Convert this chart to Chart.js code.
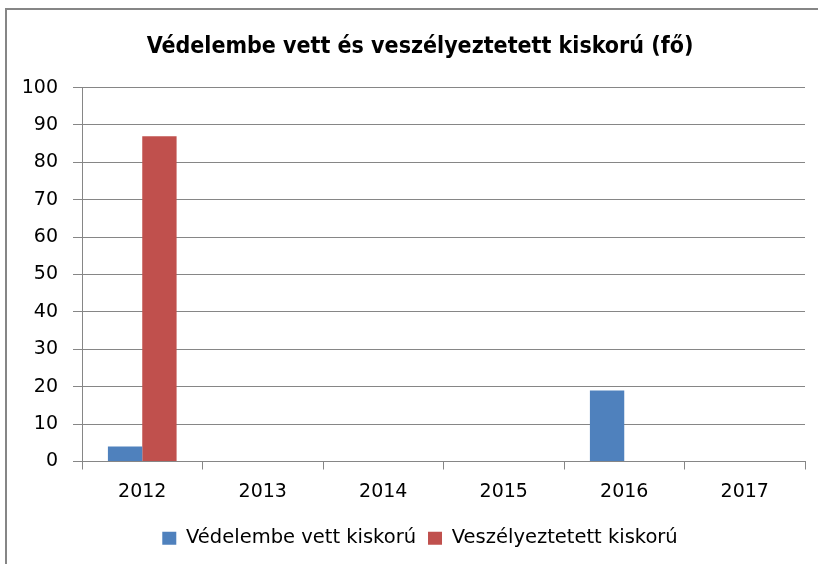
<!DOCTYPE html>
<html>
<head>
<meta charset="utf-8">
<script src="https://cdn.jsdelivr.net/npm/chart.js@4/dist/chart.umd.min.js"></script>
<style>
  body { margin: 0; background: #fff; }
  .frame {
    position: absolute; left: 5px; top: 8px; width: 900px; height: 700px;
    border-top: 2px solid #868686; border-left: 2px solid #868686;
    pointer-events: none;
  }
  .wrap { position: absolute; left: 0; top: 0; width: 818px; height: 564px; }
</style>
</head>
<body>
<div class="wrap"><canvas id="kidsChart" width="818" height="564"></canvas></div>
<div class="frame"></div>
<script>
// Data
const years = ["2012", "2013", "2014", "2015", "2016", "2017"];
const protectedKids = [4, 0, 0, 0, 19, 0];
const endangeredKids = [87, 0, 0, 0, 0, 0];
const yTicks = [0, 10, 20, 30, 40, 50, 60, 70, 80, 90, 100];

const gridColor = "#868686";
const tickFont = { family: "'DejaVu Sans', sans-serif", size: 19 };

const ctx = document.getElementById("kidsChart").getContext("2d");
new Chart(ctx, {
  type: "bar",
  data: {
    labels: years,
    datasets: [
      {
        label: "Védelembe vett kiskorú",
        data: protectedKids,
        backgroundColor: "#4F81BD",
        categoryPercentage: 0.57,
        barPercentage: 1,
      },
      {
        label: "Veszélyeztetett kiskorú",
        data: endangeredKids,
        backgroundColor: "#C0504D",
        categoryPercentage: 0.57,
        barPercentage: 1,
      },
    ],
  },
  options: {
    responsive: false,
    animation: false,
    layout: { padding: { left: 22, right: 0, top: 0, bottom: 6 } },
    plugins: {
      title: {
        display: true,
        text: "Védelembe vett és veszélyeztetett kiskorú (fő)",
        color: "#000",
        font: { family: "'DejaVu Sans Condensed', sans-serif", size: 23, weight: "bold" },
        padding: { top: 33, bottom: 27 },
      },
      legend: {
        position: "bottom",
        labels: {
          color: "#000",
          font: { family: "'DejaVu Sans', sans-serif", size: 19.5 },
          boxWidth: 14,
          boxHeight: 13,
          padding: 12,
        },
      },
      tooltip: { enabled: false },
    },
    scales: {
      x: {
        afterFit: (scale) => {
          scale.height = 55;
        },
        grid: {
          offset: true,
          drawOnChartArea: false,
          drawTicks: true,
          tickLength: 8,
          color: gridColor,
        },
        border: { color: gridColor, width: 1 },
        ticks: { color: "#000", font: tickFont, padding: 11 },
      },
      y: {
        min: 0,
        max: 100,
        afterBuildTicks: (scale) => {
          scale.ticks = yTicks.map((v) => ({ value: v }));
        },
        afterFit: (scale) => {
          scale.width = 60;
        },
        grid: { color: gridColor, tickLength: 9 },
        border: { color: gridColor, width: 1 },
        ticks: { color: "#000", font: tickFont, padding: 15 },
      },
      // empty spacer on the right so the plot ends where the reference does
      spacer: {
        type: "linear",
        position: "right",
        afterFit: (scale) => {
          scale.width = 13;
        },
        grid: { display: false },
        border: { display: false },
        ticks: { display: false },
      },
    },
  },
});
</script>
</body>
</html>
